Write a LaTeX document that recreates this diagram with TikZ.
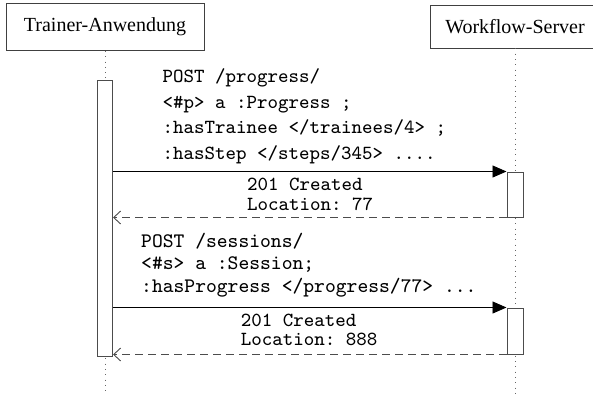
\documentclass[tikz,border=0pt]{standalone}
\usepackage{fontspec}
\newfontfamily\boxfont{Liberation Serif}
\setmonofont{lmmono9-regular.otf}
\usetikzlibrary{arrows.meta}
\begin{document}
\begin{tikzpicture}[x=1pt,y=-1pt,
 actor/.style={draw=black!75, line width=0.8pt, minimum width=198pt, minimum height=47pt, inner sep=0pt, font=\boxfont\fontsize{20}{24}\selectfont},
 life/.style={draw=black!60, line width=0.8pt, dash pattern=on 0.8pt off 4.5pt},
 bar/.style={draw=black!70, fill=white, line width=1pt, minimum width=15pt, inner sep=0pt},
 msg/.style={draw=black, line width=0.9pt, -{Triangle[length=14pt,width=12pt]}},
 ret/.style={draw=black!70, line width=0.9pt, dash pattern=on 8pt off 5pt, -{Straight Barb[length=7pt,width=13pt]}},
 code/.style={inner sep=0pt, align=left, font=\ttfamily\fontsize{20}{25.5}\selectfont}]
\useasboundingbox (0,0) rectangle (593,394);
\clip (0,0) rectangle (593,394);
% actors
\node[actor] (ta) at (105,27) {Trainer-Anwendung};
\node[actor, minimum width=170pt, minimum height=43pt] (ws) at (515,26.5) {Workflow-Server};
% lifelines
\coordinate (taend) at (105,394);
\coordinate (wsend) at (515,394);
\draw[life] (ta.south) -- (taend);
\draw[life] (ws.south) -- (wsend);
% activation bars
\node[bar, minimum height=276pt] (bl) at (105,218) {};
\node[bar, minimum width=16pt, minimum height=45pt] (br1) at (515,194.5) {};
\node[bar, minimum width=16pt, minimum height=46pt] (br2) at (515,331) {};
% messages
\draw[msg] (bl.east |- br1.north) -- (br1.north west);
\draw[ret] (br1.south west) -- (bl.east |- br1.south);
\draw[msg] (bl.east |- br2.north) -- (br2.north west);
\draw[ret] (br2.south west) -- (bl.east |- br2.south);
% labels
\node[code, anchor=west] (req1) at (162.5,116.5) {POST /progress/\\<\#p> a :Progress ;\\:hasTrainee </trainees/4> ;\\:hasStep </steps/345> ....};
\node[code, font=\ttfamily\fontsize{20}{20}\selectfont] (res1) at (310,194) {201 Created\\Location: 77};
\node[code, anchor=west, font=\ttfamily\fontsize{20.6}{22.5}\selectfont] (req2) at (141,265) {POST /sessions/\\<\#s> a :Session;\\:hasProgress </progress/77> ...};
\node[code, font=\ttfamily\fontsize{20}{19}\selectfont] (res2) at (309,330) {201 Created\\Location: 888};
\end{tikzpicture}
\end{document}
